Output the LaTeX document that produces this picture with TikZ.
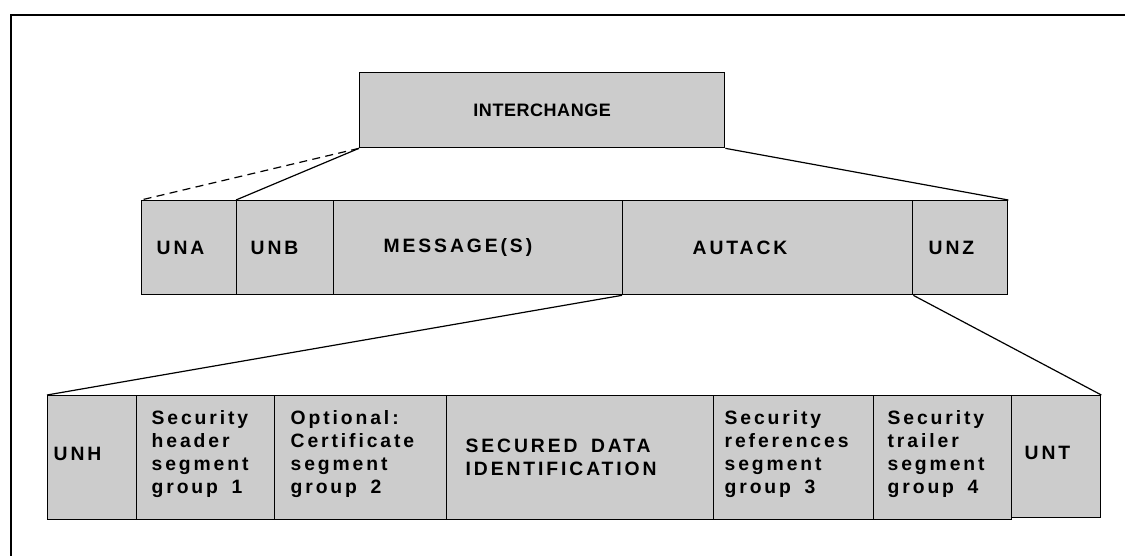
\documentclass[tikz,border=0pt]{standalone}
\usepackage{fontspec}
\newfontfamily\segfont{Liberation Sans}[LetterSpace=15]
\newfontfamily\titlefont{Liberation Sans}[LetterSpace=3]
\definecolor{boxgray}{gray}{0.8}

\tikzset{
    seg/.style={draw, fill=boxgray, line width=1pt, anchor=north west,
        align=left, inner ysep=0pt,
        font=\segfont\bfseries\fontsize{14.5}{17.25}\selectfont,
        execute at begin node={\spaceskip=0.7em\relax}},
    link/.style={line width=0.9pt}
}

\begin{document}
\begin{tikzpicture}[x=0.75pt, y=-0.75pt]

\useasboundingbox (0,0) rectangle (1125,556);
\draw[line width=1.5pt] (11,556) -- (11,15) -- (1125,15);

% interchange
\node[seg, align=center, minimum width=273.75pt, minimum height=56.25pt,
    font=\titlefont\bfseries\fontsize{13.5}{16}\selectfont] (ich) at (359,72) {INTERCHANGE};

% service segments and messages
\node[seg, minimum height=70.5pt, inner xsep=11.25pt, text width=48.75pt] (una) at (141,200) {UNA};
\node[seg, minimum height=70.5pt, inner xsep=10.5pt, text width=51.75pt] (unb) at (236,200) {UNB};
\node[seg, minimum height=70.5pt, inner xsep=37.5pt, text width=141.75pt] (msg) at (333,200) {MESSAGE(S)};
\node[seg, minimum height=70.5pt, inner xsep=52.5pt, text width=112.5pt] (autack) at (622,200) {AUTACK};
\node[seg, minimum height=70.5pt, inner xsep=12pt, text width=47.25pt] (unz) at (912,200) {UNZ};

% autack message
\node[seg, minimum height=93pt, inner xsep=4.5pt, text width=57.75pt, text depth=6pt] (unh) at (47,395) {UNH};
\node[seg, minimum height=93pt, inner xsep=11.25pt, text width=81pt, text depth=61pt] (sghdr) at (136,395) {Security\\header\\segment\\group 1};
\node[seg, minimum height=93pt, inner xsep=12pt, text width=105pt, text depth=61pt] (sgcert) at (274,395) {Optional:\\Certificate\\segment\\group 2};
\node[seg, minimum height=93pt, inner xsep=14.25pt, text width=171.75pt] (secid) at (446,395) {SECURED DATA\\IDENTIFICATION};
\node[seg, minimum height=93pt, inner xsep=8.25pt, text width=103.5pt, text depth=61pt] (sgref) at (713,395) {Security\\references\\segment\\group 3};
\node[seg, minimum height=93pt, inner xsep=10.5pt, text width=82.5pt, text depth=61pt] (sgtrl) at (873,395) {Security\\trailer\\segment\\group 4};
\node[seg, minimum height=91.5pt, inner xsep=9.75pt, text width=47.25pt, text depth=6pt] (unt) at (1011,395) {UNT};

% expansion lines
\draw[link, dash pattern=on 6pt off 4pt] (ich.south west) -- (una.north west);
\draw[link] (ich.south west) -- (unb.north west);
\draw[link] (ich.south east) -- (unz.north east);
\draw[link] (autack.south west) -- (unh.north west);
\draw[link] (autack.south east) -- (unt.north east);

\end{tikzpicture}
\end{document}
